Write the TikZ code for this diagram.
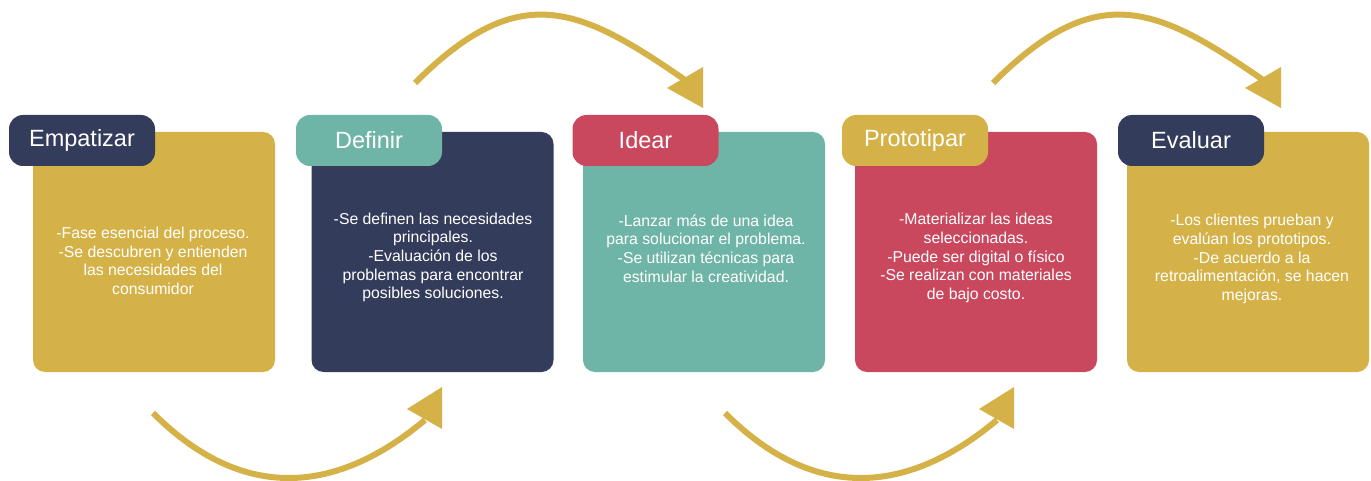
\documentclass[tikz,border=0pt]{standalone}
\usepackage{fontspec}
\setmainfont{Liberation Sans}
\definecolor{oro}{RGB}{213,178,72}
\definecolor{marino}{RGB}{52,60,92}
\definecolor{verde}{RGB}{111,181,167}
\definecolor{rojo}{RGB}{201,72,94}
\begin{document}
\begin{tikzpicture}[x=1pt,y=-1pt,
    cuerpo/.style={rounded corners=12pt,minimum width=242pt,minimum height=240pt,inner sep=0pt},
    titulo/.style={rounded corners=14pt,minimum width=146pt,minimum height=51pt,inner sep=0pt,text=white,font=\fontsize{23.5}{26}\selectfont},
    texto/.style={text=white,align=center,font=\fontsize{15.8}{18.6}\selectfont},
    flecha/.style={oro,line width=6pt}]
    \useasboundingbox (0,0) rectangle (1371,481);
    % cajas
    \node[cuerpo,fill=oro]    (c1) at (154,252) {};
    \node[cuerpo,fill=marino] (c2) at (432.5,252) {};
    \node[cuerpo,fill=verde]  (c3) at (704,252) {};
    \node[cuerpo,fill=rojo]   (c4) at (976,252) {};
    \node[cuerpo,fill=oro]    (c5) at (1248,252) {};
    % titulos
    \node[titulo,fill=marino] (t1) at (82,140.5) {Empatizar};
    \node[titulo,fill=verde]  (t2) at (369,140.5) {Definir};
    \node[titulo,fill=rojo]   (t3) at (645.5,140.5) {Idear};
    \node[titulo,fill=oro]    (t4) at (915,140.5) {Prototipar};
    \node[titulo,fill=marino] (t5) at (1191,140.5) {Evaluar};
    % textos
    \node[texto] (x1) at (153,261) {-Fase esencial del proceso.\\-Se descubren y entienden\\las necesidades del\\consumidor};
    \node[texto] (x2) at (433,257.5) {-Se definen las necesidades\\principales.\\-Evaluación de los\\problemas para encontrar\\posibles soluciones.};
    \node[texto] (x3) at (706,248.5) {-Lanzar más de una idea\\para solucionar el problema.\\-Se utilizan técnicas para\\estimular la creatividad.};
    \node[texto] (x4) at (976,258) {-Materializar las ideas\\seleccionadas.\\-Puede ser digital o físico\\-Se realizan con materiales\\de bajo costo.};
    \node[texto] (x5) at (1252,259) {-Los clientes prueban y\\evalúan los prototipos.\\-De acuerdo a la\\retroalimentación, se hacen\\mejoras.};
    % flechas de arriba
    \coordinate (a1) at (415,83);  \coordinate (b1) at (688,82);
    \coordinate (a2) at (993,83);  \coordinate (b2) at (1266,82);
    \draw[flecha] (a1) .. controls (520,-22) and (580,7) .. (b1);
    \fill[oro] (667,88) -- (703,67) -- (703,108) -- cycle;
    \draw[flecha] (a2) .. controls (1098,-22) and (1158,7) .. (b2);
    \fill[oro] (1245,88) -- (1281,67) -- (1281,108) -- cycle;
    % flechas de abajo
    \coordinate (a3) at (153,413); \coordinate (b3) at (425,420);
    \coordinate (a4) at (725,413); \coordinate (b4) at (997,420);
    \draw[flecha] (a3) .. controls (240,500) and (333,497) .. (b3);
    \fill[oro] (407,409) -- (442,387) -- (442,429) -- cycle;
    \draw[flecha] (a4) .. controls (812,500) and (905,497) .. (b4);
    \fill[oro] (979,409) -- (1014,387) -- (1014,429) -- cycle;
\end{tikzpicture}
\end{document}
